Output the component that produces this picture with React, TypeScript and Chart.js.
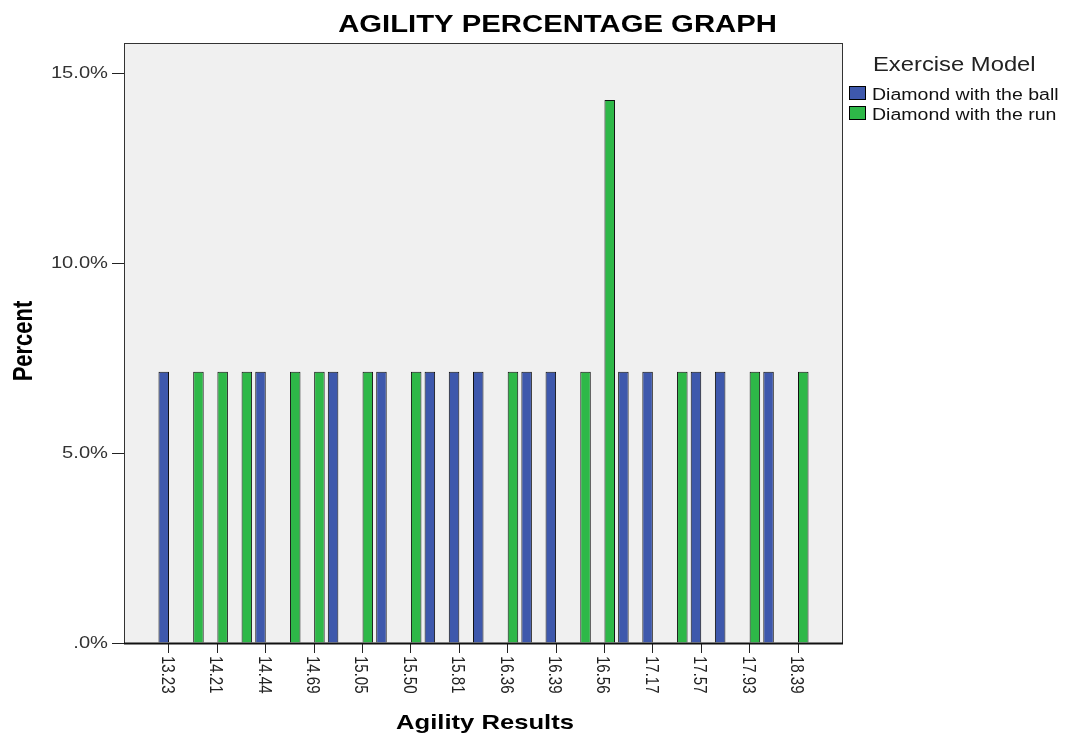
import React, { useEffect, useRef } from 'react';
import { Chart, registerables } from 'chart.js';

Chart.register(...registerables);

// Agility result categories (every other one is labelled on the axis)
const categories = [
  '13.23', '13.71', '14.21', '14.35', '14.44', '14.56', '14.69', '14.85', '15.05',
  '15.38', '15.50', '15.67', '15.81', '16.10', '16.36', '16.38', '16.39', '16.50',
  '16.56', '16.98', '17.17', '17.38', '17.57', '17.69', '17.93', '18.15', '18.39',
];

const seriesNames = ['Diamond with the ball', 'Diamond with the run'];

const ballPercent = [
  7.14, 0, 0, 0, 7.14, 0, 0, 7.14, 0, 7.14, 0, 7.14, 7.14, 7.14, 0, 7.14, 7.14, 0,
  0, 7.14, 7.14, 0, 7.14, 7.14, 0, 7.14, 0,
];

const runPercent = [
  0, 7.14, 7.14, 7.14, 0, 7.14, 7.14, 0, 7.14, 0, 7.14, 0, 0, 0, 7.14, 0, 0, 7.14,
  14.29, 0, 0, 7.14, 0, 0, 7.14, 0, 7.14,
];

const yTickValues = [0, 5, 10, 15];
const yTickLabels = ['.0%', '5.0%', '10.0%', '15.0%'];

const chartTitle = 'AGILITY PERCENTAGE GRAPH';
const xTitle = 'Agility Results';
const yTitle = 'Percent';
const legendTitle = 'Exercise Model';

const seriesColors = ['#3e58ac', '#2eb848'];

const SX = 1.22;
const FONT = '"Liberation Sans", Arial, sans-serif';

function drawText(
  ctx: CanvasRenderingContext2D,
  text: string,
  x: number,
  y: number,
  font: string,
  color: string,
  align: CanvasTextAlign,
  baseline: CanvasTextBaseline,
  rotate = 0
) {
  ctx.save();
  ctx.translate(x, y);
  ctx.scale(SX, 1);
  if (rotate) ctx.rotate(rotate);
  ctx.font = font;
  ctx.fillStyle = color;
  ctx.textAlign = align;
  ctx.textBaseline = baseline;
  ctx.fillText(text, 0, 0);
  ctx.restore();
}

const decorPlugin = {
  id: 'decor',
  beforeDraw(chart: any) {
    const { ctx, chartArea: a } = chart;
    ctx.save();
    ctx.fillStyle = '#ffffff';
    ctx.fillRect(0, 0, chart.width, chart.height);
    ctx.fillStyle = '#f0f0f0';
    ctx.fillRect(a.left, a.top, a.right - a.left, a.bottom - a.top);
    ctx.restore();
  },
  afterDatasetsDraw(chart: any) {
    const { ctx, chartArea: a } = chart;
    ctx.save();
    ctx.strokeStyle = '#333333';
    ctx.lineWidth = 1;
    ctx.strokeRect(a.left + 0.5, a.top + 0.5, a.right - a.left - 1, a.bottom - a.top);
    ctx.beginPath();
    ctx.moveTo(a.left, a.bottom + 0.5);
    ctx.lineTo(a.right, a.bottom + 0.5);
    ctx.strokeStyle = '#111';
    ctx.lineWidth = 2;
    ctx.stroke();
    ctx.restore();
  },
  afterDraw(chart: any) {
    const { ctx } = chart;
    const xs = chart.scales.x;
    const ys = chart.scales.y;

    // title
    drawText(ctx, chartTitle, 557.5, 32, `bold 24px ${FONT}`, '#000', 'center', 'alphabetic');

    // y tick labels
    yTickValues.forEach((v, i) => {
      drawText(ctx, yTickLabels[i], 108, ys.getPixelForValue(v), `16.5px ${FONT}`, '#333', 'right', 'middle');
    });

    // x tick labels, rotated clockwise
    categories.forEach((c, i) => {
      if (i % 2 !== 0) return;
      drawText(ctx, c, xs.getPixelForValue(i) - 2, 656, `15px ${FONT}`, '#222', 'left', 'middle', Math.PI / 2);
    });

    // axis titles
    drawText(ctx, yTitle, 32, 341, `bold 22px ${FONT}`, '#000', 'center', 'alphabetic', -Math.PI / 2);
    drawText(ctx, xTitle, 485, 729, `bold 21px ${FONT}`, '#000', 'center', 'alphabetic');

    // legend
    drawText(ctx, legendTitle, 873, 71, `19.5px ${FONT}`, '#222', 'left', 'alphabetic');
    seriesNames.forEach((name, i) => {
      const top = 86 + i * 20;
      ctx.save();
      ctx.fillStyle = seriesColors[i];
      ctx.fillRect(849, top, 17, 14);
      ctx.strokeStyle = '#000';
      ctx.lineWidth = 1;
      ctx.strokeRect(849.5, top + 0.5, 16, 13);
      ctx.restore();
      drawText(ctx, name, 872, top + 14, `16px ${FONT}`, '#111', 'left', 'alphabetic');
    });
  },
};

export default function App() {
  const ref = useRef<HTMLCanvasElement | null>(null);

  useEffect(() => {
    if (!ref.current) return;
    const mk = (vals: number[]) => vals.map((v, i) => ({ x: i, y: v }));
    const chart = new Chart(ref.current, {
      type: 'bar',
      data: {
        datasets: [
          {
            label: seriesNames[0],
            data: mk(ballPercent),
            backgroundColor: seriesColors[0],
            borderColor: '#111',
            borderWidth: 1,
            categoryPercentage: 0.87,
            barPercentage: 1,
          },
          {
            label: seriesNames[1],
            data: mk(runPercent),
            backgroundColor: seriesColors[1],
            borderColor: '#111',
            borderWidth: 1,
            categoryPercentage: 0.87,
            barPercentage: 1,
          },
        ],
      } as any,
      options: {
        animation: false,
        responsive: false,
        events: [],
        layout: { padding: { left: 112, top: 43, right: 222, bottom: 84 } },
        plugins: {
          legend: { display: false },
          title: { display: false },
          tooltip: { enabled: false },
        },
        scales: {
          x: {
            type: 'linear',
            min: -1.86,
            max: 27.86,
            offset: false,
            grid: { offset: false, drawOnChartArea: false, drawTicks: true, tickLength: 10, color: '#222' },
            border: { display: false },
            ticks: { display: false },
            afterBuildTicks: (s: any) => {
              s.ticks = categories.map((_, i) => ({ value: i })).filter((t) => t.value % 2 === 0);
            },
          },
          y: {
            min: 0,
            max: 15.79,
            grid: { offset: false, drawOnChartArea: false, drawTicks: true, tickLength: 12, color: '#222' },
            border: { display: false },
            ticks: { display: false },
            afterBuildTicks: (s: any) => {
              s.ticks = yTickValues.map((v) => ({ value: v }));
            },
          },
        },
      } as any,
      plugins: [decorPlugin],
    });
    return () => chart.destroy();
  }, []);

  return (
    <div style={{ position: 'absolute', left: 0, top: 0, width: 1065, height: 737 }}>
      <canvas ref={ref} width={1065} height={737} style={{ display: 'block' }} />
    </div>
  );
}
